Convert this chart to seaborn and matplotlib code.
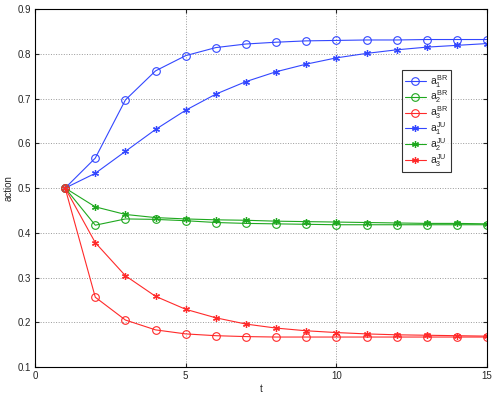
import matplotlib
matplotlib.use('Agg')
import matplotlib.pyplot as plt
import seaborn as sns

# time steps
t = list(range(1, 16))

# best-response dynamics
a1_br = [0.500, 0.567, 0.697, 0.762, 0.796, 0.814, 0.822, 0.826, 0.829, 0.830, 0.831, 0.831, 0.832, 0.832, 0.832]
a2_br = [0.500, 0.417, 0.431, 0.430, 0.427, 0.423, 0.421, 0.420, 0.419, 0.418, 0.418, 0.418, 0.418, 0.418, 0.418]
a3_br = [0.500, 0.256, 0.205, 0.183, 0.174, 0.170, 0.168, 0.167, 0.167, 0.167, 0.167, 0.167, 0.167, 0.167, 0.167]

# JU dynamics
a1_ju = [0.500, 0.533, 0.582, 0.631, 0.674, 0.710, 0.738, 0.760, 0.777, 0.791, 0.801, 0.809, 0.815, 0.819, 0.823]
a2_ju = [0.500, 0.458, 0.441, 0.434, 0.431, 0.429, 0.428, 0.426, 0.425, 0.424, 0.423, 0.422, 0.421, 0.421, 0.420]
a3_ju = [0.500, 0.378, 0.304, 0.258, 0.229, 0.210, 0.196, 0.187, 0.181, 0.177, 0.174, 0.172, 0.171, 0.170, 0.169]

series = [
    (a1_br, r'$a_1^{BR}$', '#3347ff', 'o'),
    (a2_br, r'$a_2^{BR}$', '#1fa81f', 'o'),
    (a3_br, r'$a_3^{BR}$', '#ff2a2a', 'o'),
    (a1_ju, r'$a_1^{JU}$', '#3347ff', '*'),
    (a2_ju, r'$a_2^{JU}$', '#1fa81f', '*'),
    (a3_ju, r'$a_3^{JU}$', '#ff2a2a', '*'),
]

sns.set_style('white')
plt.rcParams['font.family'] = ['Liberation Sans', 'DejaVu Sans']
plt.rcParams['mathtext.fontset'] = 'custom'
plt.rcParams['mathtext.rm'] = 'Liberation Sans'
plt.rcParams['mathtext.it'] = 'Liberation Sans'

fig = plt.figure(figsize=(4.98, 3.96), dpi=100)
ax = fig.add_axes([0.0703, 0.0732, 0.9077, 0.9038])

for vals, lab, col, mk in series:
    if mk == 'o':
        sns.lineplot(x=t, y=vals, ax=ax, color=col, marker='o', label=lab,
                     markersize=5.5, markerfacecolor='none', markeredgecolor=col,
                     markeredgewidth=0.8, linewidth=0.8)
    else:
        sns.lineplot(x=t, y=vals, ax=ax, color=col, marker=(6, 2, 0), label=lab,
                     markersize=5, markeredgecolor=col, markeredgewidth=0.9,
                     linewidth=0.8)

ax.set_xlim(0, 15)
ax.set_ylim(0.1, 0.9)
ax.set_xticks([0, 5, 10, 15])
ax.set_yticks([0.1, 0.2, 0.3, 0.4, 0.5, 0.6, 0.7, 0.8, 0.9])
ax.set_yticklabels(['0.1', '0.2', '0.3', '0.4', '0.5', '0.6', '0.7', '0.8', '0.9'])
ax.tick_params(direction='in', length=3, labelsize=7, top=True, right=True,
               bottom=True, left=True, pad=3)
ax.grid(True, linestyle=':', color='#9a9a9a', linewidth=0.7)
for sp in ax.spines.values():
    sp.set_color('black')
    sp.set_linewidth(0.8)
ax.set_xlabel('t', fontsize=7, labelpad=2)
ax.set_ylabel('action', fontsize=7, labelpad=3)

leg = ax.legend(loc='upper left', bbox_to_anchor=(0.80, 0.845), fontsize=7.5,
                labelspacing=-0.1, handlelength=2.0, handletextpad=0.4,
                borderpad=0.3, frameon=True, fancybox=False, edgecolor='black')
leg.get_frame().set_linewidth(0.8)

plt.savefig('out.png', dpi=100)
plt.close()
